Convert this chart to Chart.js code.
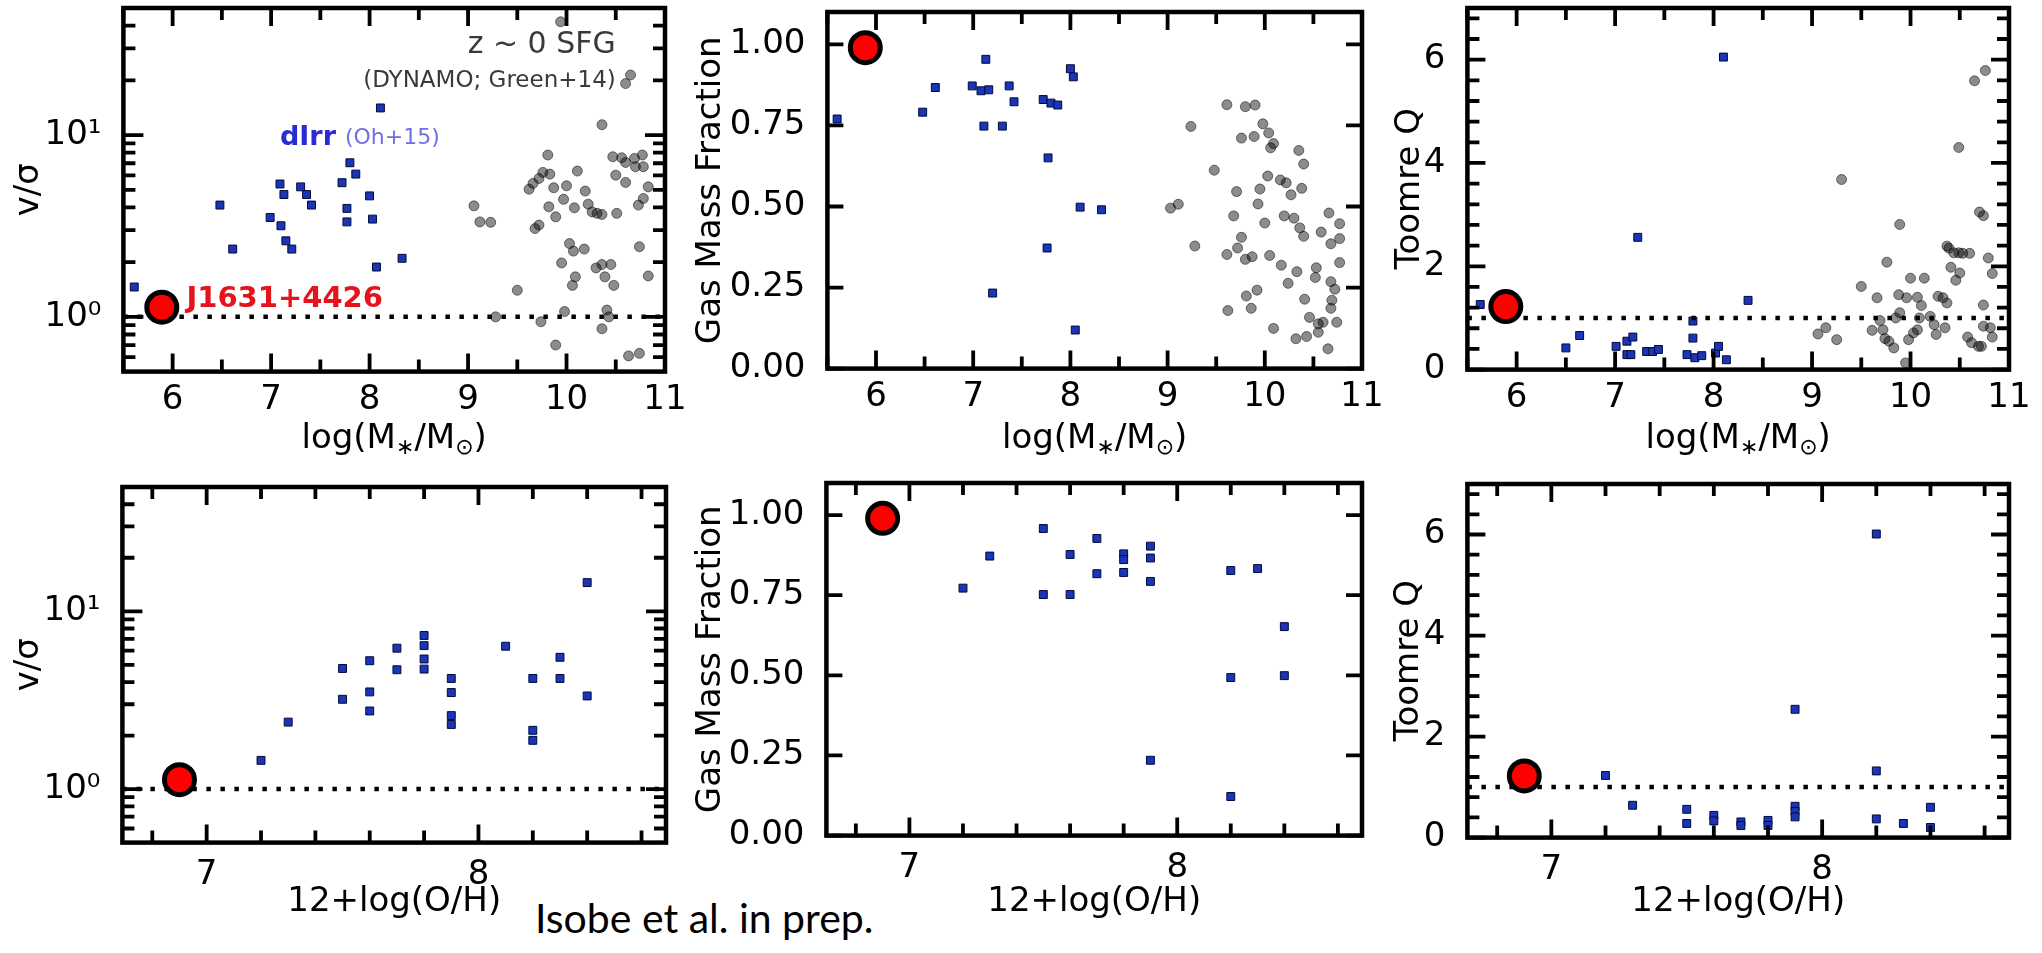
<!DOCTYPE html>
<html lang="en">
<head>
<meta charset="UTF-8">
<title>J1631+4426 compared with dIrr and DYNAMO galaxies</title>
<script src="https://cdn.jsdelivr.net/npm/chart.js"></script>
<style>
  html, body { margin: 0; padding: 0; background: #fff; overflow: hidden; }
  body { width: 2042px; height: 953px; position: relative; }
  .panel { position: absolute; }
  #credit {
    position: absolute; left: 535px; top: 897px;
    font-family: Lato, 'Noto Sans', sans-serif; font-size: 41px; line-height: 41px;
    color: #000; white-space: nowrap;
  }
</style>
</head>
<body>
<div id="credit">Isobe et al. in prep.</div>
<script>
// axis limits and ticks
const massRange = [5.5, 11];
const massMajor = [6, 7, 8, 9, 10, 11];
const massMinor = [5.5, 6.5, 7.5, 8.5, 9.5, 10.5];
const ohRange = [6.69, 8.69];
const ohMajor = [7, 8];
const ohMinor = [6.8, 7.2, 7.4, 7.6, 7.8, 8.2, 8.4, 8.6];
const vsigRange = [0.5, 50];
const vsigMajor = [1, 10];
const vsigLabels = ['10⁰', '10¹'];
const vsigMinor = [0.6, 0.7, 0.8, 0.9, 2, 3, 4, 5, 6, 7, 8, 9, 20, 30, 40];
const fgasRange = [0, 1.1];
const fgasMajor = [0, 0.25, 0.5, 0.75, 1.0];
const fgasLabels = ['0.00', '0.25', '0.50', '0.75', '1.00'];
const toomreRange = [0, 7];
const toomreMajor = [0, 2, 4, 6];
const toomreMinor = [0.4, 0.8, 1.2, 1.6, 2.4, 2.8, 3.2, 3.6, 4.4, 4.8, 5.2, 5.6, 6.4, 6.8];
const unityLevel = 1;

// J1631+4426
const j1631Mass = 5.89, j1631OH = 6.9, j1631Vsig = 1.13, j1631Fgas = 0.99, j1631Q = 1.22;

// dIrr (Oh+15), v/sigma vs mass
const dirrMassV = [5.61, 6.48, 6.61, 6.99, 7.09, 7.13, 7.10, 7.15, 7.21, 7.30, 7.36, 7.41, 7.72, 7.80, 7.86, 7.77, 7.77, 8.00, 8.03, 8.07, 8.11, 8.33];
const dirrVsig = [1.46, 4.12, 2.36, 3.52, 5.38, 4.71, 3.17, 2.62, 2.36, 5.19, 4.71, 4.12, 5.47, 7.04, 6.10, 3.95, 3.33, 4.63, 3.45, 1.88, 14.1, 2.10];
// dIrr, gas fraction vs mass
const dirrMassF = [5.60, 6.48, 6.61, 6.99, 7.13, 7.08, 7.16, 7.37, 7.42, 7.11, 7.30, 7.72, 7.80, 7.87, 7.77, 8.00, 8.03, 8.10, 8.32, 7.76, 7.20, 8.05];
const dirrFgas = [0.770, 0.791, 0.867, 0.872, 0.954, 0.857, 0.860, 0.872, 0.823, 0.748, 0.748, 0.830, 0.819, 0.813, 0.650, 0.925, 0.900, 0.498, 0.490, 0.372, 0.233, 0.119];
// dIrr, Toomre Q vs mass
const dirrMassQ = [5.63, 6.50, 6.64, 7.01, 7.12, 7.18, 7.12, 7.16, 7.23, 7.32, 7.38, 7.44, 7.79, 7.79, 7.73, 7.81, 7.88, 8.02, 8.05, 8.13, 8.10, 8.35];
const dirrQ = [1.26, 0.42, 0.66, 0.45, 0.55, 0.63, 0.29, 0.29, 2.56, 0.35, 0.35, 0.39, 0.94, 0.61, 0.29, 0.23, 0.27, 0.32, 0.45, 0.19, 6.05, 1.34];

// dIrr vs metallicity
const dirrOHV = [7.2, 7.3, 7.5, 7.5, 7.6, 7.6, 7.6, 7.7, 7.7, 7.8, 7.8, 7.8, 7.8, 7.9, 7.9, 7.9, 7.9, 8.1, 8.2, 8.2, 8.2, 8.3, 8.3, 8.4, 8.4];
const dirrVsigOH = [1.45, 2.38, 4.77, 3.20, 5.27, 3.52, 2.75, 6.20, 4.69, 7.31, 6.41, 5.39, 4.73, 4.19, 3.49, 2.59, 2.31, 6.36, 4.19, 2.14, 1.88, 5.51, 4.19, 14.5, 3.34];
const dirrOHF = [7.2, 7.3, 7.5, 7.5, 7.6, 7.6, 7.7, 7.7, 7.8, 7.8, 7.8, 7.9, 7.9, 7.9, 7.9, 8.2, 8.2, 8.2, 8.3, 8.4, 8.4];
const dirrFgasOH = [0.772, 0.872, 0.958, 0.752, 0.877, 0.752, 0.927, 0.817, 0.879, 0.861, 0.821, 0.903, 0.866, 0.793, 0.235, 0.827, 0.493, 0.122, 0.833, 0.652, 0.499];
const dirrOHQ = [7.2, 7.3, 7.5, 7.5, 7.6, 7.6, 7.7, 7.7, 7.8, 7.8, 7.9, 7.9, 7.9, 7.9, 8.2, 8.2, 8.2, 8.3, 8.4, 8.4];
const dirrQOH = [1.23, 0.64, 0.56, 0.28, 0.44, 0.33, 0.31, 0.24, 0.34, 0.24, 2.54, 0.62, 0.52, 0.41, 6.01, 1.32, 0.37, 0.28, 0.60, 0.20];

// z~0 SFG (DYNAMO; Green+14)
const dynMassV = [9.94, 10.60, 10.65, 10.36, 9.06, 9.12, 9.23, 9.50, 9.28, 9.74, 9.89, 9.81, 9.62, 9.66, 9.72, 9.76, 9.83, 9.87, 9.68, 9.72, 9.82, 9.89, 9.97, 10.00, 10.11, 10.08, 10.19, 10.22, 10.26, 10.31, 10.36, 10.50, 10.47, 10.56, 10.60, 10.51, 10.60, 10.69, 10.77, 10.70, 10.78, 10.83, 10.78, 10.73, 10.74, 10.83, 10.03, 10.07, 10.18, 9.95, 10.09, 10.06, 10.30, 10.36, 10.45, 10.39, 10.48, 9.98, 10.41, 10.43, 10.36, 10.63, 10.74];
const dynVsig = [42, 19.2, 21.4, 11.4, 4.08, 3.33, 3.31, 1.40, 1.00, 0.94, 0.70, 7.77, 5.04, 5.42, 5.77, 6.23, 6.10, 5.13, 3.06, 3.20, 4.03, 3.55, 4.43, 5.26, 6.34, 3.98, 4.92, 4.17, 3.78, 3.71, 3.66, 6.02, 7.60, 7.50, 5.49, 3.71, 7.07, 7.44, 7.77, 6.70, 6.70, 5.19, 4.48, 4.12, 2.43, 1.68, 2.53, 2.30, 2.36, 1.98, 1.66, 1.49, 1.86, 1.94, 1.94, 1.66, 1.49, 1.07, 1.09, 1.00, 0.86, 0.61, 0.63];
const dynMassF = [9.03, 9.11, 9.24, 9.28, 9.48, 9.61, 9.80, 9.90, 9.98, 10.04, 10.09, 10.06, 9.76, 9.89, 10.35, 10.40, 9.71, 9.68, 9.95, 9.93, 10.03, 10.16, 10.22, 10.27, 10.38, 10.20, 10.30, 10.36, 10.40, 10.00, 9.76, 9.72, 9.61, 9.80, 9.87, 10.05, 10.17, 10.33, 10.24, 9.81, 9.92, 9.86, 9.62, 10.09, 10.41, 10.53, 10.52, 10.46, 10.55, 10.60, 10.43, 10.32, 10.55, 10.65, 10.58, 10.66, 10.77, 10.68, 10.77, 10.77, 10.68, 10.72, 10.69, 10.68, 10.74];
const dynFgas = [0.495, 0.507, 0.747, 0.378, 0.612, 0.814, 0.808, 0.813, 0.755, 0.727, 0.694, 0.681, 0.711, 0.716, 0.673, 0.631, 0.546, 0.471, 0.554, 0.508, 0.594, 0.582, 0.573, 0.536, 0.556, 0.471, 0.464, 0.434, 0.408, 0.449, 0.405, 0.372, 0.352, 0.337, 0.345, 0.349, 0.319, 0.299, 0.263, 0.224, 0.242, 0.186, 0.179, 0.124, 0.214, 0.311, 0.281, 0.158, 0.138, 0.143, 0.099, 0.092, 0.112, 0.061, 0.421, 0.480, 0.447, 0.385, 0.401, 0.327, 0.268, 0.245, 0.211, 0.186, 0.143];
const dynMassQ = [9.06, 9.14, 9.25, 9.30, 9.50, 9.66, 9.76, 9.89, 9.61, 9.69, 9.72, 9.74, 9.78, 9.83, 9.88, 9.96, 9.89, 9.85, 10.00, 10.14, 10.07, 10.11, 10.09, 10.07, 9.95, 9.98, 10.03, 10.20, 10.24, 10.26, 10.35, 10.28, 10.33, 10.37, 10.37, 10.39, 10.44, 10.49, 10.53, 10.41, 10.50, 10.46, 10.49, 10.60, 10.65, 10.76, 10.70, 10.74, 10.79, 10.83, 10.74, 10.58, 10.62, 10.69, 10.72, 10.74, 10.81, 10.83];
const dynQ = [0.69, 0.81, 0.58, 3.68, 1.61, 1.39, 2.08, 2.81, 0.76, 0.95, 0.77, 0.60, 0.55, 0.42, 1.45, 1.39, 1.10, 1.00, 1.77, 1.77, 1.40, 1.24, 1.00, 0.77, 0.13, 0.58, 0.71, 1.03, 0.87, 0.68, 0.81, 1.42, 1.39, 1.29, 2.39, 2.35, 2.26, 2.26, 2.25, 1.98, 1.87, 1.73, 4.30, 2.25, 5.59, 5.79, 3.05, 2.98, 2.16, 1.86, 1.25, 0.63, 0.52, 0.45, 0.45, 0.84, 0.81, 0.63];

// annotation texts for the first panel (placed in data units)
const notes = [
  { text: 'z ~ 0 SFG', x: 10.5, y: 31.3, align: 'right', font: '30px "DejaVu Sans"', color: '#3a3a3a' },
  { text: '(DYNAMO; Green+14)', x: 10.5, y: 19.9, align: 'right', font: '23px "DejaVu Sans"', color: '#3a3a3a' },
  { text: 'dIrr', x: 7.09, y: 9.66, align: 'left', font: 'bold 27px "DejaVu Sans"', color: '#2b2bd6' },
  { text: '(Oh+15)', x: 7.75, y: 9.66, align: 'left', font: '22px "DejaVu Sans"', color: '#6f6fe6' },
  { text: 'J1631+4426', x: 6.14, y: 1.25, align: 'left', font: 'bold 29px "DejaVu Sans"', color: '#e5141c' }
];

Chart.defaults.font.family = "'DejaVu Sans', sans-serif";
Chart.defaults.color = '#000';

const PAD_T = 45, PAD_R = 45, HALF_LINE = 20.4;
// mass axis title is drawn by hand so the * and sun symbols can be subscripts
const massTitle = [['log(M', false], ['∗', true], ['/M', false], ['⊙', true], [')', false]];
const xMass = { range: massRange, major: massMajor, minor: massMinor, title: 'log(M∗/M⊙)', pieces: massTitle, fmt: v => String(v) };
const xOH = { range: ohRange, major: ohMajor, minor: ohMinor, title: '12+log(O/H)', fmt: v => String(v) };
const yVsig = { type: 'logarithmic', range: vsigRange, major: vsigMajor, minor: vsigMinor, title: 'v/σ', fmt: v => vsigLabels[vsigMajor.indexOf(v)], majorLen: 20 };
const yFgas = { type: 'linear', range: fgasRange, major: fgasMajor, minor: [], title: 'Gas Mass Fraction', fmt: v => fgasLabels[fgasMajor.indexOf(v)], majorLen: 16 };
const yQ = { type: 'linear', range: toomreRange, major: toomreMajor, minor: toomreMinor, title: 'Toomre Q', fmt: v => String(v), majorLen: 18 };

const zip = (xs, ys) => xs.map((x, i) => ({ x: x, y: ys[i] }));

function drawPieces(ctx, pieces, cx, cy) {
  const big = '34px "DejaVu Sans"', small = '22px "DejaVu Sans"';
  let total = 0;
  const widths = pieces.map(([t, sub]) => { ctx.font = sub ? small : big; const w = ctx.measureText(t).width; total += w; return w; });
  let x = cx - total / 2;
  ctx.textAlign = 'left';
  ctx.textBaseline = 'middle';
  ctx.fillStyle = '#000';
  pieces.forEach(([t, sub], i) => {
    ctx.font = sub ? small : big;
    ctx.fillText(t, x, sub ? cy + 9 : cy);
    x += widths[i];
  });
}

function buildPanel(p) {
  const b = p.box;
  const yw = b.L - p.titleX + HALF_LINE;
  const xh = p.titleY - b.B + HALF_LINE;
  const left = Math.round(b.L - yw), top = Math.round(b.T - PAD_T);
  const width = Math.round(b.R - b.L + yw + PAD_R), height = Math.round(b.B - b.T + PAD_T + xh);
  const wrap = document.createElement('div');
  wrap.className = 'panel';
  Object.assign(wrap.style, { left: left + 'px', top: top + 'px', width: width + 'px', height: height + 'px' });
  const cv = document.createElement('canvas');
  cv.width = width; cv.height = height;
  wrap.appendChild(cv);
  document.body.appendChild(wrap);

  const datasets = [];
  datasets.push({ data: [{ x: p.red[0], y: p.red[1] }], pointRadius: 15, backgroundColor: '#ff0000', borderColor: '#000', borderWidth: 5 });
  if (p.unity) {
    datasets.push({ data: [{ x: p.xa.range[0], y: unityLevel }, { x: p.xa.range[1], y: unityLevel }], showLine: true, pointRadius: 0,
      borderColor: '#000', borderWidth: 4.5, borderDash: [4.5, 9.5], borderCapStyle: 'butt' });
  }
  datasets.push({ data: zip(p.blue[0], p.blue[1]), pointStyle: 'rect', pointRadius: 5.6, backgroundColor: '#1c35b5', borderColor: '#000a3c', borderWidth: 1 });
  if (p.gray) {
    datasets.push({ data: zip(p.gray[0], p.gray[1]), pointRadius: 5, backgroundColor: 'rgba(0,0,0,0.45)', borderColor: 'rgba(0,0,0,0.5)', borderWidth: 1 });
  }

  const frame = {
    id: 'frame',
    afterDatasetsDraw(chart) {
      const { ctx, chartArea: a } = chart;
      const sx = chart.scales.x, sy = chart.scales.y;
      ctx.save();
      ctx.strokeStyle = '#000';
      ctx.lineCap = 'butt';
      ctx.lineWidth = 3.8;
      ctx.beginPath();
      const hTicks = (vals, len) => vals.forEach(v => {
        const px = sx.getPixelForValue(v);
        ctx.moveTo(px, a.bottom); ctx.lineTo(px, a.bottom - len);
        ctx.moveTo(px, a.top); ctx.lineTo(px, a.top + len);
      });
      const vTicks = (vals, len) => vals.forEach(v => {
        const py = sy.getPixelForValue(v);
        ctx.moveTo(a.left, py); ctx.lineTo(a.left + len, py);
        ctx.moveTo(a.right, py); ctx.lineTo(a.right - len, py);
      });
      hTicks(p.xa.major, 18); hTicks(p.xa.minor, 12);
      vTicks(p.ya.major, p.ya.majorLen); vTicks(p.ya.minor, 12);
      ctx.stroke();
      ctx.lineWidth = 4.5;
      ctx.strokeRect(a.left, a.top, a.right - a.left, a.bottom - a.top);
      (p.notes || []).forEach(n => {
        ctx.font = n.font;
        ctx.fillStyle = n.color;
        ctx.textAlign = n.align;
        ctx.textBaseline = 'middle';
        ctx.fillText(n.text, sx.getPixelForValue(n.x), sy.getPixelForValue(n.y));
      });
      if (p.xa.pieces) drawPieces(ctx, p.xa.pieces, (a.left + a.right) / 2, sx.bottom - HALF_LINE);
      ctx.restore();
    }
  };

  new Chart(cv, {
    type: 'scatter',
    data: { datasets: datasets },
    options: {
      responsive: false,
      animation: false,
      events: [],
      layout: { padding: { top: PAD_T, right: PAD_R, left: 0, bottom: 0 } },
      plugins: { legend: { display: false }, tooltip: { enabled: false } },
      scales: {
        x: {
          type: 'linear', min: p.xa.range[0], max: p.xa.range[1],
          grid: { display: false }, border: { display: false },
          afterBuildTicks: s => { s.ticks = p.xa.major.map(v => ({ value: v })); },
          afterFit: s => { s.height = xh; },
          ticks: { padding: p.xPad, autoSkip: false, maxRotation: 0, font: { size: 34 }, color: '#000', callback: v => p.xa.fmt(v) },
          title: { display: !p.xa.pieces, text: p.xa.title, font: { size: 34 }, color: '#000', padding: { top: 0, bottom: 0 } }
        },
        y: {
          type: p.ya.type, min: p.ya.range[0], max: p.ya.range[1],
          grid: { display: false }, border: { display: false },
          afterBuildTicks: s => { s.ticks = p.ya.major.map(v => ({ value: v })); },
          afterFit: s => { s.width = yw; },
          ticks: { padding: 14, autoSkip: false, font: { size: 34 }, color: '#000', callback: v => p.ya.fmt(v) },
          title: { display: true, text: p.ya.title, font: { size: 34 }, color: '#000', padding: { top: 0, bottom: 0 } }
        }
      }
    },
    plugins: [frame]
  });
}

const panels = [
  { box: { L: 123, T: 8, R: 665, B: 372 }, titleX: 29, titleY: 440, xPad: 0, xa: xMass, ya: yVsig, unity: true,
    red: [j1631Mass, j1631Vsig], blue: [dirrMassV, dirrVsig], gray: [dynMassV, dynVsig], notes: notes },
  { box: { L: 827, T: 12, R: 1362, B: 369 }, titleX: 711, titleY: 440, xPad: 0, xa: xMass, ya: yFgas, unity: false,
    red: [j1631Mass, j1631Fgas], blue: [dirrMassF, dirrFgas], gray: [dynMassF, dynFgas] },
  { box: { L: 1467, T: 8, R: 2009, B: 370 }, titleX: 1410, titleY: 440, xPad: 0, xa: xMass, ya: yQ, unity: true,
    red: [j1631Mass, j1631Q], blue: [dirrMassQ, dirrQ], gray: [dynMassQ, dynQ] },
  { box: { L: 122, T: 487, R: 666, B: 843 }, titleX: 29, titleY: 903, xPad: 4, xa: xOH, ya: yVsig, unity: true,
    red: [j1631OH, j1631Vsig], blue: [dirrOHV, dirrVsigOH] },
  { box: { L: 826, T: 483, R: 1362, B: 836 }, titleX: 711, titleY: 903, xPad: 4, xa: xOH, ya: yFgas, unity: false,
    red: [j1631OH, j1631Fgas], blue: [dirrOHF, dirrFgasOH] },
  { box: { L: 1467, T: 484, R: 2009, B: 838 }, titleX: 1409, titleY: 903, xPad: 4, xa: xOH, ya: yQ, unity: true,
    red: [j1631OH, j1631Q], blue: [dirrOHQ, dirrQOH] }
];

panels.forEach(buildPanel);
</script>
</body>
</html>
